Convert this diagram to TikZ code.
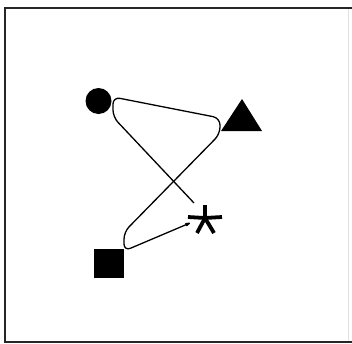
\documentclass[tikz,border=0pt]{standalone}
\usetikzlibrary{arrows.meta}
\begin{document}
\begin{tikzpicture}[x=1pt,y=-1pt,
  frameline/.style={line width=1.6pt, black!85},
  faintline/.style={line width=0.8pt, black!12},
  route/.style={line width=1.3pt, rounded corners=7pt},
  shapefill/.style={fill=black, draw=none},
  astarm/.style={line width=3.8pt}]
\useasboundingbox (0,0) rectangle (352,343);
% frame
\draw[frameline] (352,8) -- (5,8) -- (5,342) -- (352,342);
\draw[faintline] (348,9) -- (348,341);
% objects
\fill[shapefill] (98.5,101) circle (13);
\fill[shapefill] (242,99) -- (221,131) -- (262,131) -- cycle;
\fill[shapefill] (94,249) rectangle (124,278);
% asterisk
\coordinate (ast) at (205,218);
\draw[astarm] (ast) -- ++(0,-13);
\draw[astarm] (ast) -- ++(17,-1);
\draw[astarm] (ast) -- ++(-17,-1);
\draw[astarm] (ast) -- ++(-8,15);
\draw[astarm] (ast) -- ++(9,15);
% route
\coordinate (start) at (194,203);
\coordinate (tip) at (190,223);
\draw[route,-{Stealth[length=8pt,width=5pt,round]}] (start) -- (113,117) -- (113,97) -- (220,118) -- (220,134) -- (124,232) -- (124,251) -- (tip);
\end{tikzpicture}
\end{document}
